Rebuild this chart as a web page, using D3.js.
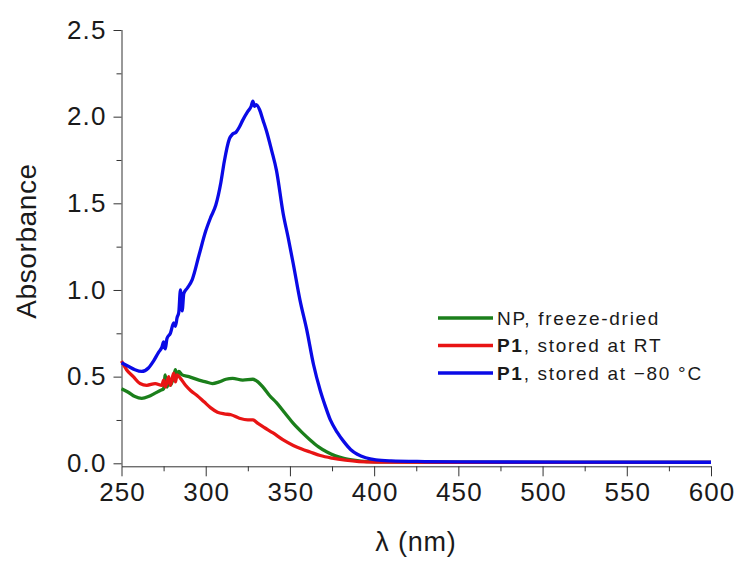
<!DOCTYPE html>
<html lang="en">
<head>
  <meta charset="UTF-8">
  <title>Absorbance spectra</title>
  <script src="https://d3js.org/d3.v7.min.js"></script>
  <style>
    body { margin: 0; background: #fff; }
    svg { width: 740px; height: 561px; display: block; font-family: "Liberation Sans", Arial, sans-serif; }
    .axis path, .axis line { stroke: #333; }
    .axis text { fill: #1a1a1a; font-size: 26px; letter-spacing: 1.1px; }
  </style>
</head>
<body>
  <svg></svg>

  <script>
    // [wavelength nm, absorbance]
    const npFreezeDried = [
      [250, 0.43], [254, 0.41], [258, 0.385], [262, 0.375], [266, 0.385], [270, 0.405],
      [273, 0.42], [275, 0.43], [276, 0.51], [277, 0.44], [278, 0.47], [279, 0.45],
      [281, 0.50], [282, 0.54], [283, 0.50], [284, 0.53], [286, 0.51], [290, 0.50],
      [296, 0.48], [300, 0.47], [304, 0.46], [308, 0.47], [312, 0.485], [316, 0.49],
      [322, 0.48], [328, 0.485], [331, 0.47], [334, 0.44], [338, 0.39], [342, 0.35],
      [347, 0.29], [352, 0.23], [357, 0.18], [362, 0.135], [367, 0.095], [372, 0.065],
      [377, 0.043], [382, 0.028], [390, 0.016], [397, 0.01], [410, 0.008], [450, 0.006],
      [600, 0.005]
    ];
    const p1StoredRT = [
      [250, 0.59], [253, 0.54], [257, 0.50], [261, 0.46], [265, 0.45], [270, 0.46],
      [274, 0.45], [275, 0.48], [276, 0.44], [278, 0.50], [279, 0.45], [281, 0.52],
      [282, 0.47], [283, 0.51], [285, 0.49], [288, 0.45], [291, 0.42], [295, 0.39],
      [299, 0.355], [303, 0.32], [307, 0.295], [311, 0.285], [315, 0.28], [320, 0.26],
      [325, 0.25], [328, 0.25], [331, 0.23], [335, 0.205], [340, 0.175], [346, 0.135],
      [352, 0.103], [357, 0.082], [362, 0.065], [368, 0.045], [375, 0.03], [383, 0.018],
      [391, 0.01], [400, 0.007], [450, 0.005], [600, 0.005]
    ];
    const p1StoredMinus80 = [
      [250, 0.58], [254, 0.56], [258, 0.54], [262, 0.53], [266, 0.55], [269, 0.59],
      [272, 0.64], [274, 0.67], [275, 0.70], [276, 0.66], [277, 0.72], [279, 0.75],
      [281, 0.81], [282, 0.79], [283, 0.84], [284, 0.87], [285, 1.0], [286, 0.88],
      [287, 0.98], [289, 1.01], [292, 1.06], [296, 1.20], [300, 1.34], [303, 1.42],
      [306, 1.49], [309, 1.62], [311, 1.74], [314, 1.87], [316, 1.90], [318, 1.91],
      [320, 1.94], [322, 1.98], [325, 2.03], [327, 2.06], [328, 2.09], [329, 2.06],
      [330, 2.07], [332, 2.04], [334, 1.98], [336, 1.92], [339, 1.81], [342, 1.69],
      [346, 1.44], [349, 1.30], [352, 1.15], [356, 0.94], [360, 0.77], [364, 0.57],
      [368, 0.42], [371, 0.33], [374, 0.25], [378, 0.18], [382, 0.125], [386, 0.08],
      [390, 0.052], [395, 0.032], [401, 0.02], [410, 0.014], [430, 0.01], [450, 0.008],
      [600, 0.006]
    ];

    const series = [
      {name: `NP`, rest: `, freeze-dried`, bold: false, color: `#1b7f1b`, data: npFreezeDried},
      {name: `P1`, rest: `, stored at RT`, bold: true, color: `#e81414`, data: p1StoredRT},
      {name: `P1`, rest: `, stored at \u221280 \u00b0C`, bold: true, color: `#0a0ae6`, data: p1StoredMinus80},
    ];

    const xTicks = [250, 300, 350, 400, 450, 500, 550, 600];
    const yTicks = [0.0, 0.5, 1.0, 1.5, 2.0, 2.5];

    const margin = {top: 30, left: 121.5, right: 29, bottom: 97.7};
    const width = 740;
    const height = 561;

    const xScale = d3.scaleLinear()
      .domain([250, 600])
      .range([margin.left, width - margin.right]);

    const yScale = d3.scaleLinear()
      .domain([0, 2.5])
      .range([height - margin.bottom, margin.top]);

    const svg = d3.select(`svg`);
    const axisY = height - margin.bottom + 3;

    // minor ticks first
    svg.append(`g`)
      .attr(`class`, `axis`)
      .attr(`transform`, `translate(0, ${axisY})`)
      .call(d3.axisBottom(xScale).tickValues(d3.range(275, 600, 50)).tickSize(5).tickFormat(``))
      .call(g => g.select(`.domain`).remove());

    svg.append(`g`)
      .attr(`class`, `axis`)
      .attr(`transform`, `translate(${margin.left}, 0)`)
      .call(d3.axisLeft(yScale).tickValues(d3.range(0.25, 2.5, 0.5)).tickSize(5).tickFormat(``))
      .call(g => g.select(`.domain`).remove());

    svg.append(`g`)
      .attr(`class`, `axis`)
      .attr(`transform`, `translate(0, ${axisY})`)
      .call(d3.axisBottom(xScale).tickValues(xTicks).tickSizeInner(10).tickSizeOuter(0).tickPadding(6))
      .call(g => g.selectAll(`.tick text`).attr(`dy`, `0.72em`).attr(`dx`, `0.5px`));

    const yAxis = svg.append(`g`)
      .attr(`class`, `axis`)
      .attr(`transform`, `translate(${margin.left}, 0)`)
      .call(d3.axisLeft(yScale).tickValues(yTicks).tickSizeInner(8).tickSizeOuter(0).tickPadding(7)
        .tickFormat(d3.format(`.1f`)));
    yAxis.select(`.domain`).attr(`d`, `M0.5,${margin.top}V${axisY}`);

    const line = d3.line()
      .x(d => xScale(d[0]))
      .y(d => yScale(d[1]))
      .curve(d3.curveMonotoneX);

    svg.append(`g`)
      .selectAll(`path`)
      .data(series)
      .join(`path`)
      .attr(`d`, d => line(d.data))
      .attr(`fill`, `none`)
      .attr(`stroke`, d => d.color)
      .attr(`stroke-width`, 3.3)
      .attr(`stroke-linejoin`, `round`);

    // axis titles
    svg.append(`text`)
      .attr(`transform`, `translate(36, 241) rotate(-90)`)
      .attr(`text-anchor`, `middle`)
      .attr(`font-size`, 28)
      .attr(`letter-spacing`, `0.6px`)
      .attr(`fill`, `#1a1a1a`)
      .text(`Absorbance`);

    svg.append(`text`)
      .attr(`x`, 416)
      .attr(`y`, 551)
      .attr(`text-anchor`, `middle`)
      .attr(`font-size`, 27)
      .attr(`letter-spacing`, `0.8px`)
      .attr(`fill`, `#1a1a1a`)
      .text(`\u03bb (nm)`);

    // legend
    const legend = svg.append(`g`)
      .attr(`transform`, `translate(438, 318)`);

    const rows = legend.selectAll(`g`)
      .data(series)
      .join(`g`)
      .attr(`transform`, (d, i) => `translate(0, ${i * 27.5})`);

    rows.append(`line`)
      .attr(`x1`, 0).attr(`x2`, 55)
      .attr(`stroke`, d => d.color)
      .attr(`stroke-width`, 3.3);

    const label = rows.append(`text`)
      .attr(`x`, 59)
      .attr(`dy`, `0.36em`)
      .attr(`font-size`, 19)
      .attr(`letter-spacing`, `1.7px`)
      .attr(`fill`, `#1a1a1a`);
    label.append(`tspan`)
      .attr(`font-weight`, d => d.bold ? `bold` : `normal`)
      .text(d => d.name);
    label.append(`tspan`)
      .text(d => d.rest);
  </script>
</body>
</html>
